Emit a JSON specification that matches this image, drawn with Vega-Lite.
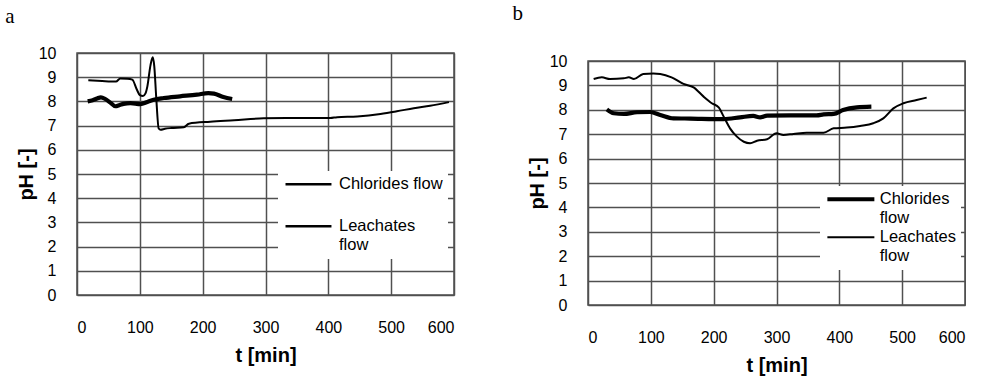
{
  "$schema": "https://vega.github.io/schema/vega-lite/v6.json",
  "padding": {"left": 4, "top": 3, "right": 0, "bottom": 0},
  "background": "white",
  "spacing": 57,
  "datasets": {
    "a": [
      {"t": 18, "pH": 8.87, "series": "Leachates flow"},
      {"t": 40, "pH": 8.84, "series": "Leachates flow"},
      {"t": 62, "pH": 8.82, "series": "Leachates flow"},
      {"t": 69, "pH": 8.95, "series": "Leachates flow"},
      {"t": 80, "pH": 8.94, "series": "Leachates flow"},
      {"t": 88, "pH": 8.9, "series": "Leachates flow"},
      {"t": 95, "pH": 8.5, "series": "Leachates flow"},
      {"t": 100, "pH": 8.26, "series": "Leachates flow"},
      {"t": 105, "pH": 8.22, "series": "Leachates flow"},
      {"t": 109, "pH": 8.33, "series": "Leachates flow"},
      {"t": 112, "pH": 8.62, "series": "Leachates flow"},
      {"t": 117, "pH": 9.5, "series": "Leachates flow"},
      {"t": 120.5, "pH": 9.82, "series": "Leachates flow"},
      {"t": 123, "pH": 9.45, "series": "Leachates flow"},
      {"t": 126, "pH": 8.2, "series": "Leachates flow"},
      {"t": 130, "pH": 6.88, "series": "Leachates flow"},
      {"t": 133, "pH": 6.83, "series": "Leachates flow"},
      {"t": 140, "pH": 6.87, "series": "Leachates flow"},
      {"t": 150, "pH": 6.9, "series": "Leachates flow"},
      {"t": 170, "pH": 6.93, "series": "Leachates flow"},
      {"t": 178, "pH": 7.08, "series": "Leachates flow"},
      {"t": 212, "pH": 7.16, "series": "Leachates flow"},
      {"t": 250, "pH": 7.22, "series": "Leachates flow"},
      {"t": 297, "pH": 7.3, "series": "Leachates flow"},
      {"t": 350, "pH": 7.31, "series": "Leachates flow"},
      {"t": 403, "pH": 7.31, "series": "Leachates flow"},
      {"t": 414, "pH": 7.35, "series": "Leachates flow"},
      {"t": 446, "pH": 7.38, "series": "Leachates flow"},
      {"t": 483, "pH": 7.48, "series": "Leachates flow"},
      {"t": 509, "pH": 7.59, "series": "Leachates flow"},
      {"t": 536, "pH": 7.72, "series": "Leachates flow"},
      {"t": 562, "pH": 7.82, "series": "Leachates flow"},
      {"t": 592, "pH": 7.97, "series": "Leachates flow"},
      {"t": 17, "pH": 8.0, "series": "Chlorides flow"},
      {"t": 25, "pH": 8.05, "series": "Chlorides flow"},
      {"t": 32, "pH": 8.12, "series": "Chlorides flow"},
      {"t": 38, "pH": 8.17, "series": "Chlorides flow"},
      {"t": 45, "pH": 8.1, "series": "Chlorides flow"},
      {"t": 53, "pH": 7.95, "series": "Chlorides flow"},
      {"t": 61, "pH": 7.8, "series": "Chlorides flow"},
      {"t": 68, "pH": 7.85, "series": "Chlorides flow"},
      {"t": 74, "pH": 7.9, "series": "Chlorides flow"},
      {"t": 85, "pH": 7.93, "series": "Chlorides flow"},
      {"t": 101, "pH": 7.89, "series": "Chlorides flow"},
      {"t": 112, "pH": 7.98, "series": "Chlorides flow"},
      {"t": 122, "pH": 8.07, "series": "Chlorides flow"},
      {"t": 138, "pH": 8.14, "series": "Chlorides flow"},
      {"t": 164, "pH": 8.21, "series": "Chlorides flow"},
      {"t": 191, "pH": 8.28, "series": "Chlorides flow"},
      {"t": 209, "pH": 8.34, "series": "Chlorides flow"},
      {"t": 218, "pH": 8.32, "series": "Chlorides flow"},
      {"t": 233, "pH": 8.18, "series": "Chlorides flow"},
      {"t": 247, "pH": 8.1, "series": "Chlorides flow"}
    ],
    "b": [
      {"t": 9, "pH": 9.26, "series": "Leachates flow"},
      {"t": 22, "pH": 9.33, "series": "Leachates flow"},
      {"t": 35, "pH": 9.26, "series": "Leachates flow"},
      {"t": 57, "pH": 9.29, "series": "Leachates flow"},
      {"t": 65, "pH": 9.33, "series": "Leachates flow"},
      {"t": 73, "pH": 9.26, "series": "Leachates flow"},
      {"t": 88, "pH": 9.47, "series": "Leachates flow"},
      {"t": 104, "pH": 9.49, "series": "Leachates flow"},
      {"t": 115, "pH": 9.47, "series": "Leachates flow"},
      {"t": 133, "pH": 9.33, "series": "Leachates flow"},
      {"t": 152, "pH": 9.06, "series": "Leachates flow"},
      {"t": 168, "pH": 8.92, "series": "Leachates flow"},
      {"t": 184, "pH": 8.54, "series": "Leachates flow"},
      {"t": 197, "pH": 8.27, "series": "Leachates flow"},
      {"t": 208, "pH": 8.1, "series": "Leachates flow"},
      {"t": 216, "pH": 7.72, "series": "Leachates flow"},
      {"t": 226, "pH": 7.24, "series": "Leachates flow"},
      {"t": 237, "pH": 6.9, "series": "Leachates flow"},
      {"t": 248, "pH": 6.69, "series": "Leachates flow"},
      {"t": 258, "pH": 6.63, "series": "Leachates flow"},
      {"t": 269, "pH": 6.73, "series": "Leachates flow"},
      {"t": 285, "pH": 6.79, "series": "Leachates flow"},
      {"t": 300, "pH": 7.04, "series": "Leachates flow"},
      {"t": 311, "pH": 6.97, "series": "Leachates flow"},
      {"t": 327, "pH": 7.01, "series": "Leachates flow"},
      {"t": 348, "pH": 7.06, "series": "Leachates flow"},
      {"t": 375, "pH": 7.06, "series": "Leachates flow"},
      {"t": 391, "pH": 7.24, "series": "Leachates flow"},
      {"t": 412, "pH": 7.27, "series": "Leachates flow"},
      {"t": 433, "pH": 7.34, "series": "Leachates flow"},
      {"t": 454, "pH": 7.45, "series": "Leachates flow"},
      {"t": 470, "pH": 7.65, "series": "Leachates flow"},
      {"t": 486, "pH": 8.06, "series": "Leachates flow"},
      {"t": 502, "pH": 8.27, "series": "Leachates flow"},
      {"t": 523, "pH": 8.4, "series": "Leachates flow"},
      {"t": 539, "pH": 8.5, "series": "Leachates flow"},
      {"t": 30, "pH": 8.02, "series": "Chlorides flow"},
      {"t": 41, "pH": 7.86, "series": "Chlorides flow"},
      {"t": 57, "pH": 7.83, "series": "Chlorides flow"},
      {"t": 78, "pH": 7.9, "series": "Chlorides flow"},
      {"t": 99, "pH": 7.91, "series": "Chlorides flow"},
      {"t": 115, "pH": 7.79, "series": "Chlorides flow"},
      {"t": 136, "pH": 7.65, "series": "Chlorides flow"},
      {"t": 163, "pH": 7.64, "series": "Chlorides flow"},
      {"t": 216, "pH": 7.62, "series": "Chlorides flow"},
      {"t": 242, "pH": 7.69, "series": "Chlorides flow"},
      {"t": 263, "pH": 7.75, "series": "Chlorides flow"},
      {"t": 274, "pH": 7.69, "series": "Chlorides flow"},
      {"t": 285, "pH": 7.76, "series": "Chlorides flow"},
      {"t": 322, "pH": 7.77, "series": "Chlorides flow"},
      {"t": 364, "pH": 7.77, "series": "Chlorides flow"},
      {"t": 375, "pH": 7.81, "series": "Chlorides flow"},
      {"t": 391, "pH": 7.83, "series": "Chlorides flow"},
      {"t": 406, "pH": 7.99, "series": "Chlorides flow"},
      {"t": 428, "pH": 8.1, "series": "Chlorides flow"},
      {"t": 451, "pH": 8.13, "series": "Chlorides flow"}
    ]
  },
  "config": {
    "view": {"stroke": "#505050", "strokeWidth": 1.5},
    "axis": {
      "grid": true, "gridColor": "#505050", "gridWidth": 1.5, "gridOpacity": 1,
      "ticks": false, "tickSize": 0, "domain": false,
      "labelFont": "Liberation Sans", "labelFontSize": 16, "labelColor": "black",
      "titleFont": "Liberation Sans", "titleFontSize": 20, "titleFontWeight": "bold", "titleColor": "black"
    },
    "axisX": {"labelPadding": 24, "titlePadding": 10},
    "axisY": {"labelPadding": 21, "titlePadding": 2},
    "title": {"font": "Liberation Serif", "fontSize": 21, "fontWeight": "normal", "color": "black", "anchor": "start", "frame": "bounds"},
    "legend": {
      "orient": "none", "fillColor": "white", "padding": 5,
      "symbolType": "M-1,0H7", "labelFont": "Liberation Sans", "labelFontSize": 16.5, "labelColor": "black",
      "symbolStrokeColor": "black", "title": null
    }
  },
  "resolve": {
    "scale": {"stroke": "independent", "strokeWidth": "independent"},
    "legend": {"stroke": "independent", "strokeWidth": "independent"}
  },
  "hconcat": [
    {
      "width": 377, "height": 242,
      "title": {"text": "a", "dx": -11, "offset": 18},
      "data": {"name": "a"},
      "mark": {"type": "line", "interpolate": "monotone"},
      "encoding": {
        "x": {"field": "t", "type": "quantitative", "title": "t [min]",
              "scale": {"domain": [0, 600], "nice": false},
              "axis": {"values": [0, 100, 200, 300, 400, 500, 600]}},
        "y": {"field": "pH", "type": "quantitative", "title": "pH [-]",
              "scale": {"domain": [0, 10], "nice": false},
              "axis": {"values": [0, 1, 2, 3, 4, 5, 6, 7, 8, 9, 10]}},
        "detail": {"field": "series"},
        "stroke": {"field": "series", "type": "nominal",
                   "scale": {"domain": ["Chlorides flow", "Leachates flow"], "range": ["black", "black"]},
                   "legend": {"legendX": 201, "legendY": 118, "symbolSize": 132, "symbolStrokeWidth": 2.5,
                              "labelOffset": 39.5, "rowPadding": 25,
                              "encode": {"symbols": {"update": {"strokeWidth": {"value": 2.5}}}},
                              "labelExpr": "datum.label == 'Leachates flow' ? ['Leachates', 'flow'] : datum.label"}},
        "strokeWidth": {"condition": {"test": "datum.series === 'Chlorides flow'", "value": 4.2}, "value": 2}
      }
    },
    {
      "title": {"text": "b", "dx": -14, "offset": 28},
      "spacing": -2,
      "resolve": {
        "scale": {"strokeWidth": "independent"},
        "legend": {"strokeWidth": "independent"}
      },
      "vconcat": [
        {
          "width": 1, "height": 1,
          "view": {"stroke": null},
          "data": {"values": []},
          "mark": {"type": "point", "opacity": 0},
          "encoding": {}
        },
        {
          "width": 377, "height": 244,
          "data": {"name": "b"},
          "mark": {"type": "line", "interpolate": "monotone", "stroke": "black"},
          "encoding": {
            "x": {"field": "t", "type": "quantitative", "title": "t [min]",
                  "scale": {"domain": [0, 600], "nice": false},
                  "axis": {"values": [0, 100, 200, 300, 400, 500, 600]}},
            "y": {"field": "pH", "type": "quantitative", "title": "pH [-]",
                  "scale": {"domain": [0, 10], "nice": false},
                  "axis": {"values": [0, 1, 2, 3, 4, 5, 6, 7, 8, 9, 10]}},
            "detail": {"field": "series"},
            "strokeWidth": {"field": "series", "type": "nominal",
                            "scale": {"domain": ["Chlorides flow", "Leachates flow"], "range": [4.2, 2]},
                            "legend": {"legendX": 232, "legendY": 125, "symbolSize": 138,
                                       "labelOffset": 38.25,
                                       "labelExpr": "split(datum.label, ' ')"}}
          }
        }
      ]
    }
  ]
}
